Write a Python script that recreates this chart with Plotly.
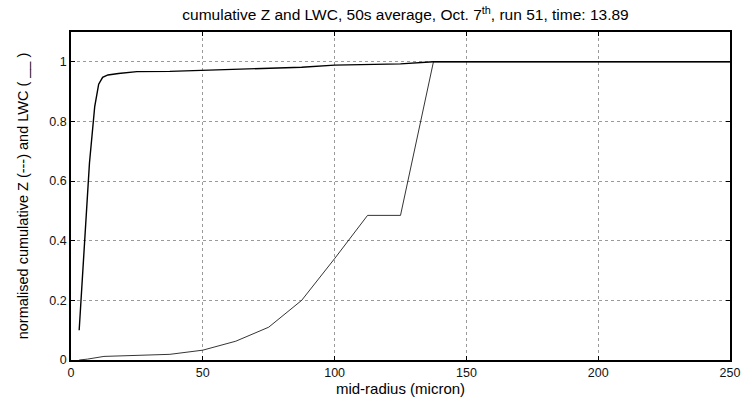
import plotly.graph_objects as go

# LWC cumulative (thick line)
lwc_x = [3.1, 5, 7, 9, 10.5, 12, 14, 18, 25, 37.5, 50, 62.5, 75, 87.5, 100, 112.5, 125, 137.5, 150, 175, 200, 225, 250]
lwc_y = [0.10, 0.38, 0.66, 0.85, 0.925, 0.948, 0.956, 0.961, 0.967, 0.968, 0.971, 0.976, 0.979, 0.982, 0.989, 0.992, 0.993, 1.0, 1.0, 1.0, 1.0, 1.0, 1.0]

# Z cumulative (thin line)
z_x = [3.1, 6.25, 12.5, 25, 37.5, 50, 62.5, 75, 87.5, 100, 112.5, 125, 137.5, 150, 175, 200, 225, 250]
z_y = [0.0, 0.003, 0.012, 0.015, 0.019, 0.033, 0.063, 0.11, 0.20, 0.34, 0.485, 0.485, 1.0, 1.0, 1.0, 1.0, 1.0, 1.0]

x_ticks = [0, 50, 100, 150, 200, 250]
y_ticks = [0, 0.2, 0.4, 0.6, 0.8, 1]
y_tick_labels = ["0", "0.2", "0.4", "0.6", "0.8", "1"]

fig = go.Figure()
fig.add_trace(go.Scatter(x=z_x, y=z_y, mode="lines", line=dict(color="black", width=0.8), showlegend=False))
fig.add_trace(go.Scatter(x=lwc_x, y=lwc_y, mode="lines", line=dict(color="black", width=1.4), showlegend=False))

font = "Liberation Sans, Arial, sans-serif"
axis_common = dict(
    showline=True, linecolor="black", linewidth=1.5, mirror="ticks",
    ticks="inside", ticklen=4, tickcolor="black",
    showgrid=True, gridcolor="#9a9a9a", griddash="dot", gridwidth=1,
    zeroline=False, tickfont=dict(family=font, size=12.5, color="#111"),
)

fig.update_layout(
    width=752, height=405,
    margin=dict(l=71, r=12, t=32, b=43),
    paper_bgcolor="white", plot_bgcolor="white",
    title=dict(text="cumulative Z and LWC, 50s average, Oct. 7<sup>th</sup>, run 51, time: 13.89",
               x=(71 + 740) / 2 / 752, xanchor="center", y=1 - 15 / 405, yanchor="middle",
               font=dict(family=font, size=15.5, color="black")),
    xaxis=dict(range=[0, 250], tickvals=x_ticks,
               title=dict(text="mid-radius (micron)", font=dict(family=font, size=15, color="black"), standoff=3),
               **axis_common),
    yaxis=dict(range=[0, 1.1], tickvals=y_ticks, ticktext=y_tick_labels,
               title=dict(text="normalised cumulative Z (---) and LWC ( __ )", font=dict(family=font, size=14.5, color="black"), standoff=17),
               **axis_common),
)

fig.write_html("out.html")
